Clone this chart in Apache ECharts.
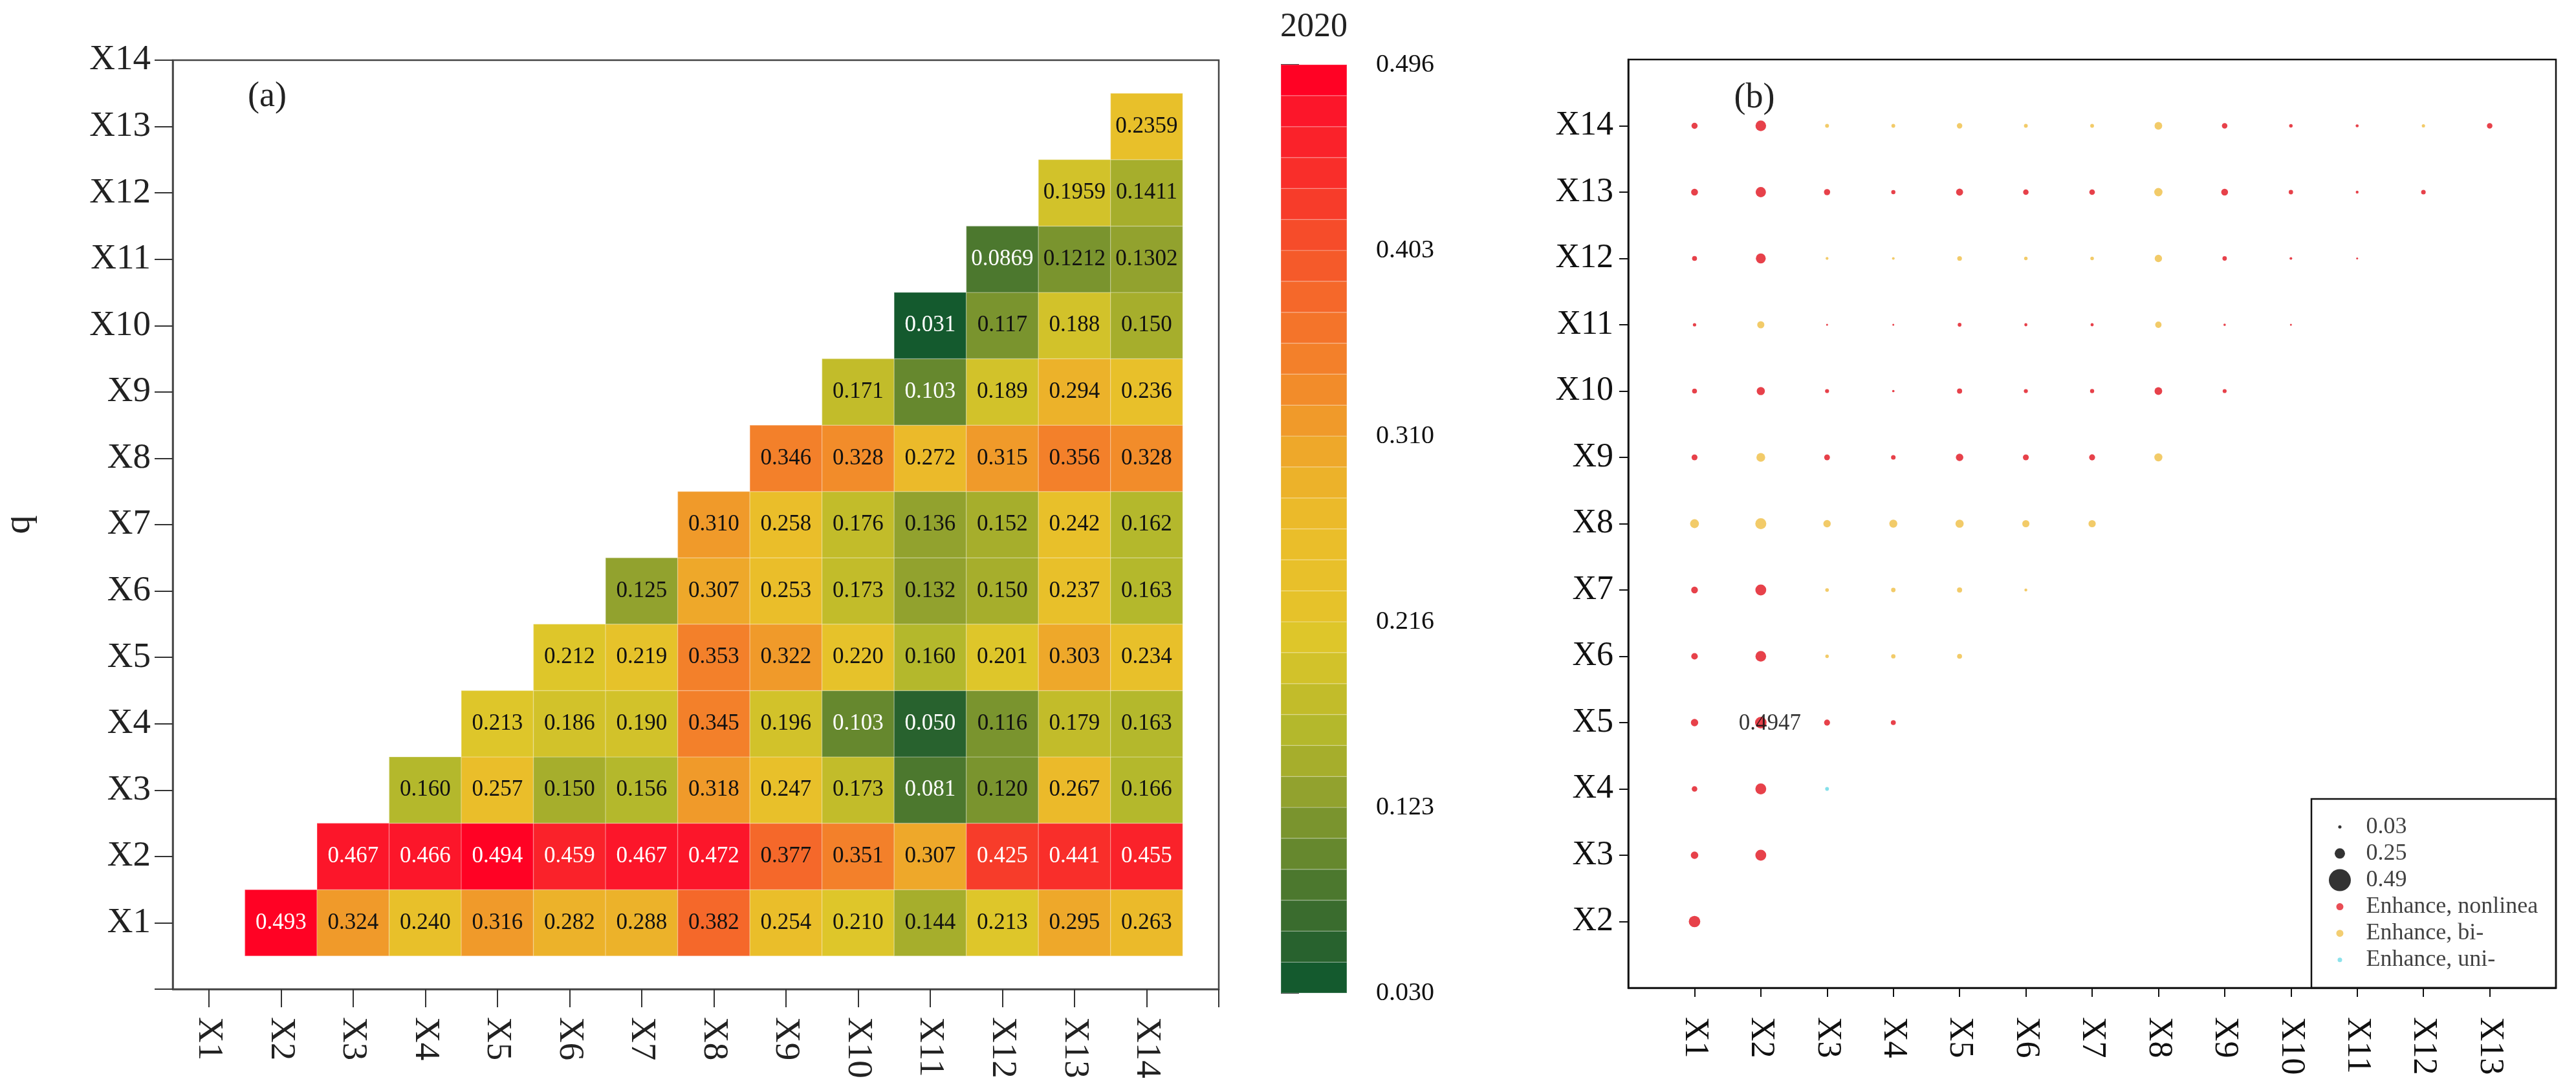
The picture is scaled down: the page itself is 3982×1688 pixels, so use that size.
<!DOCTYPE html>
<html>
<head>
<meta charset="utf-8">
<script src="https://cdn.jsdelivr.net/npm/echarts@6/dist/echarts.min.js"></script>
<style>html,body{margin:0;padding:0;background:#fff}#c{width:3982px;height:1688px}</style>
</head>
<body>
<div id="c"></div>
<script>
const FONT = '"Liberation Serif","Times New Roman",serif';

// ---- tick labels ----
const varLabels = ['X1','X2','X3','X4','X5','X6','X7','X8','X9','X10','X11','X12','X13','X14'];
const cbTickLabels = ['0.030','0.123','0.216','0.310','0.403','0.496'];
const cbMin = 0.030, cbMax = 0.496, cbBands = 30;

// ---- colour bands of the scale (lowest first) ----
const bandColors = ['#145a2e','#28622e','#3a6c2e','#4c782e','#66882e','#7a942e','#92a22e','#a6ae2c','#b4b82c','#c2bc2a',
  '#d2c22a','#dec62a','#e6c22a','#e8c02a','#eabe2a','#ebba2a','#ecb22a','#eea82a','#f09a2a','#f28c2a',
  '#f3802a','#f4742a','#f5682a','#f55a2a','#f64c2a','#f73c2a','#f92e2a','#fa222a','#fc162a','#ff0224'];

// ---- q values, panel (a): row Xi holds columns X(i+1)..X14 ----
const qX1  = [0.493,0.324,0.240,0.316,0.282,0.288,0.382,0.254,0.210,0.144,0.213,0.295,0.263];
const qX2  = [0.467,0.466,0.4947,0.459,0.467,0.472,0.377,0.351,0.307,0.425,0.441,0.455];
const qX3  = [0.160,0.257,0.150,0.156,0.318,0.247,0.173,0.081,0.120,0.267,0.166];
const qX4  = [0.213,0.186,0.190,0.345,0.196,0.103,0.050,0.116,0.179,0.163];
const qX5  = [0.212,0.219,0.353,0.322,0.220,0.160,0.201,0.303,0.234];
const qX6  = [0.125,0.307,0.253,0.173,0.132,0.150,0.237,0.163];
const qX7  = [0.310,0.258,0.176,0.136,0.152,0.242,0.162];
const qX8  = [0.346,0.328,0.272,0.315,0.356,0.328];
const qX9  = [0.171,0.103,0.189,0.294,0.236];
const qX10 = [0.031,0.117,0.188,0.150];
const qX11 = [0.0869,0.1212,0.1302];
const qX12 = [0.1959,0.1411];
const qX13 = [0.2359];
const qRows = [qX1,qX2,qX3,qX4,qX5,qX6,qX7,qX8,qX9,qX10,qX11,qX12,qX13];

// ---- interaction types, panel (b): row Xi holds columns X1..X(i-1) ----
// N = Enhance, nonlinear ; B = Enhance, bi- ; U = Enhance, uni-
const tX2  = ['N'];
const tX3  = ['N','N'];
const tX4  = ['N','N','U'];
const tX5  = ['N','N','N','N'];
const tX6  = ['N','N','B','B','B'];
const tX7  = ['N','N','B','B','B','B'];
const tX8  = ['B','B','B','B','B','B','B'];
const tX9  = ['N','B','N','N','N','N','N','B'];
const tX10 = ['N','N','N','N','N','N','N','N','N'];
const tX11 = ['N','B','N','N','N','N','N','B','N','N'];
const tX12 = ['N','N','B','B','B','B','B','B','N','N','N'];
const tX13 = ['N','N','N','N','N','N','N','B','N','N','N','N'];
const tX14 = ['N','N','B','B','B','B','B','B','N','N','N','B','N'];
const typeRows = [tX2,tX3,tX4,tX5,tX6,tX7,tX8,tX9,tX10,tX11,tX12,tX13,tX14];
const typeCodes = ['N','B','U'];

// ---- legend of panel (b) ----
const legendLabels = ['0.03','0.25','0.49','Enhance, nonlinea','Enhance, bi-','Enhance, uni-'];

// ---------------- build ----------------
const typeColors = {N:'#e3202a', B:'#f0c24f', U:'#6fdbe6'};
const legendColors = ['#000','#000','#000', typeColors.N, typeColors.B, typeColors.U];
const legendSizes = [5,16,34,11,11,7];

const heatData = [];
qRows.forEach((row,i)=>row.forEach((v,k)=>heatData.push([i+2+k, i+1, v])));

const step = (cbMax-cbMin)/cbBands;
const pieces = bandColors.map((c,i)=>{
  const p = {gte: cbMin+i*step, color:c};
  if (i<cbBands-1) p.lt = cbMin+(i+1)*step; else p.lte = cbMax+1e-9;
  return p;
});
const cbData = bandColors.map((c,i)=>[0, i, cbMin+(i+0.5)*step]);

const bData = {N:[],B:[],U:[]};
let maxQ = -1, maxRef = null;
typeRows.forEach((types,j)=>{
  const r = j+2;
  types.forEach((t,k)=>{
    const c = k+1;
    const q = qRows[c-1][r-c-1];
    const item = {value:[c, r, q]};
    bData[t].push(item);
    if (q>maxQ){maxQ=q; maxRef=item;}
  });
});
maxRef.label = {show:true, position:'inside', formatter:p=>p.value[2].toFixed(4),
  color:'#111', fontSize:35, fontFamily:FONT, offset:[14,2]};

const range = (a,b)=>{const r=[];for(let i=a;i<=b;i++)r.push(i);return r;};
function labelA(v){
  const trunc = (x,d)=>{const m=Math.pow(10,d);return (Math.floor(x*m+1e-7)/m).toFixed(d);};
  return trunc(v, 3);
}

const chart = echarts.init(document.getElementById('c'), null, {renderer:'canvas'});
const option = {
  backgroundColor:'#ffffff',
  animation:false,
  textStyle:{fontFamily:FONT},
  graphic:[
    {type:'text', x:2031, y:42, style:{text:'2020', font:'52px '+FONT, fill:'#222', align:'center', verticalAlign:'middle'}},
    {type:'text', x:413, y:150, style:{text:'(a)', font:'54px '+FONT, fill:'#222', align:'center', verticalAlign:'middle'}},
    {type:'text', x:2712, y:152, style:{text:'(b)', font:'54px '+FONT, fill:'#222', align:'center', verticalAlign:'middle'}}
  ],
  visualMap:{type:'piecewise', show:false, dimension:2, seriesIndex:[0,1], pieces:pieces},
  grid:[
    {left:264, right:2098, top:93, bottom:159, show:true, borderColor:'#444', borderWidth:2.5, backgroundColor:'rgba(0,0,0,0)'},
    {left:2517, right:31, top:92, bottom:161, show:true, borderColor:'#111', borderWidth:2.5, backgroundColor:'rgba(0,0,0,0)'},
    {left:1980, width:102, top:100, bottom:153},
    {left:3573, right:31, top:1235, bottom:161, show:true, borderColor:'#111', borderWidth:2.5, backgroundColor:'rgba(0,0,0,0)'}
  ],
  xAxis:[
    {gridIndex:0, type:'value', min:0.5, max:15, splitLine:{show:false},
     axisLine:{show:true, onZero:false, lineStyle:{color:'#444', width:2.5}},
     axisTick:{show:true, length:28, customValues:range(1,15), lineStyle:{color:'#333', width:2}},
     axisLabel:{customValues:range(1,14), formatter:v=>varLabels[v-1], rotate:-90, margin:43,
       fontSize:55, color:'#222', fontFamily:FONT}},
    {gridIndex:1, type:'value', min:0, max:14, splitLine:{show:false},
     axisLine:{show:true, onZero:false, lineStyle:{color:'#111', width:2.5}},
     axisTick:{show:true, length:14, customValues:range(1,13), lineStyle:{color:'#111', width:2}},
     axisLabel:{customValues:range(1,13), formatter:v=>varLabels[v-1], rotate:-90, margin:45,
       fontSize:52, color:'#111', fontFamily:FONT}},
    {gridIndex:2, type:'value', min:0, max:1, show:false},
    {gridIndex:3, type:'value', min:-1, max:7.6, show:false}
  ],
  yAxis:[
    {gridIndex:0, type:'value', min:0, max:14, splitLine:{show:false},
     name:'q', nameLocation:'middle', nameGap:208, nameTextStyle:{fontSize:58, color:'#222', fontFamily:FONT},
     axisLine:{show:true, onZero:false, lineStyle:{color:'#444', width:2.5}},
     axisTick:{show:true, length:28, customValues:range(0,14), lineStyle:{color:'#333', width:2}},
     axisLabel:{customValues:range(1,14), formatter:v=>varLabels[v-1], margin:34,
       fontSize:55, color:'#222', fontFamily:FONT}},
    {gridIndex:1, type:'value', min:1, max:15, splitLine:{show:false},
     axisLine:{show:true, onZero:false, lineStyle:{color:'#111', width:2.5}},
     axisTick:{show:true, length:14, customValues:range(2,14), lineStyle:{color:'#111', width:2}},
     axisLabel:{customValues:range(2,14), formatter:v=>varLabels[v-1], margin:23,
       fontSize:52, color:'#111', fontFamily:FONT}},
    {gridIndex:2, type:'value', min:0, max:30, position:'right', splitLine:{show:false},
     axisLine:{show:false},
     axisTick:{show:true, length:28, customValues:[0,6,12,18,24,30], lineStyle:{color:'#222', width:2}},
     axisLabel:{customValues:[0,6,12,18,24,30], formatter:v=>cbTickLabels[Math.round(v/6)], margin:45,
       fontSize:40, color:'#111', fontFamily:FONT}},
    {gridIndex:3, type:'value', min:-1.05, max:6.05, inverse:true, show:false}
  ],
  series:[
    {type:'custom', xAxisIndex:0, yAxisIndex:0, data:heatData, encode:{x:0,y:1}, silent:true,
     renderItem:function(params, api){
       const x=api.value(0), y=api.value(1), v=api.value(2);
       const p0=api.coord([x-0.5, y+0.5]), p1=api.coord([x+0.5, y-0.5]);
       const txt = y>=11 ? v.toFixed(4) : labelA(v);
       const white = v>0.41 || v<0.11;
       return {type:'group', children:[
         {type:'rect', shape:{x:p0[0], y:p0[1], width:p1[0]-p0[0], height:p1[1]-p0[1]},
          style:{fill:api.visual('color'), stroke:'rgba(255,255,255,0.22)', lineWidth:1.5}},
         {type:'text', x:(p0[0]+p1[0])/2, y:(p0[1]+p1[1])/2,
          style:{text:txt, fill:white?'#ffffff':'#111111', font:'35px '+FONT, align:'center', verticalAlign:'middle'}}
       ]};
     }},
    {type:'custom', xAxisIndex:2, yAxisIndex:2, data:cbData, encode:{x:0,y:1}, silent:true,
     renderItem:function(params, api){
       const i=api.value(1);
       const p0=api.coord([0, i+1]), p1=api.coord([1, i]);
       return {type:'rect', shape:{x:p0[0], y:p0[1], width:p1[0]-p0[0], height:p1[1]-p0[1]},
         style:{fill:api.visual('color'), stroke:'rgba(255,255,255,0.22)', lineWidth:1.5}};
     }},
    ...typeCodes.map(t=>({type:'scatter', xAxisIndex:1, yAxisIndex:1, data:bData[t], silent:true,
      symbol:'circle', symbolSize:v=>Math.max(3, 36*v[2]),
      itemStyle:{color:typeColors[t], opacity:0.85}, emphasis:{disabled:true}})),
    {type:'scatter', xAxisIndex:3, yAxisIndex:3, silent:true, symbol:'circle',
     data:legendLabels.map((l,i)=>({value:[0,i], symbolSize:legendSizes[i], itemStyle:{color:legendColors[i]}}))},
    {type:'scatter', xAxisIndex:3, yAxisIndex:3, silent:true, symbolSize:0,
     data:legendLabels.map((l,i)=>[0.92,i]),
     label:{show:true, position:'right', distance:0, formatter:p=>legendLabels[p.dataIndex],
       fontSize:36, color:'#111', fontFamily:FONT}}
  ]
};
chart.setOption(option);
</script>
</body>
</html>
